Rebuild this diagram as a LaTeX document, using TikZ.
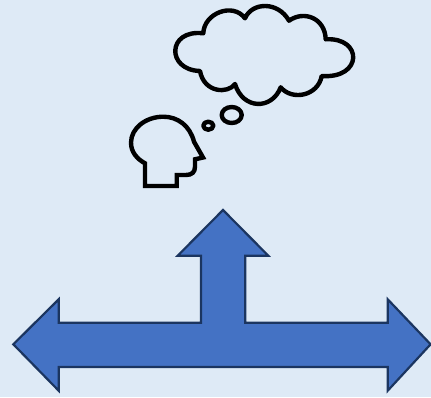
\documentclass[tikz,border=0pt]{standalone}
\definecolor{bgblue}{HTML}{DEEAF6}
\definecolor{arrowfill}{HTML}{4472C4}
\definecolor{arrowline}{HTML}{1B3560}
\tikzset{
  icon/.style={draw=black,line width=4.4pt,line join=round,fill=none},
  arrowshape/.style={draw=arrowline,line width=2.2pt,fill=arrowfill,line join=miter}
}
\begin{document}
\begin{tikzpicture}[x=1pt,y=-1pt]
\useasboundingbox (0,0) rectangle (431,397);
\fill[bgblue] (0,0) rectangle (431,397);
% three-way arrow
\draw[arrowshape] (223,210) -- (268.3,255.7) -- (245.3,255.7) -- (245.3,322.7) -- (387.7,322.7) -- (387.7,299.3) -- (430.6,344.3) -- (387.7,390.7) -- (387.7,367) -- (58.7,367) -- (58.7,390.7) -- (13.3,344.3) -- (58.7,299.3) -- (58.7,322.7) -- (201,322.7) -- (201,255.7) -- (177.7,255.7) -- cycle;
% cloud
\draw[icon] (203.3,33.3)
  .. controls (204,13) and (233,2) .. (245,18.3)
  .. controls (252,2) and (278,1) .. (289,20.7)
  .. controls (304,10) and (325,18) .. (325.7,39.3)
  .. controls (363,37) and (363,79) .. (321.7,76)
  .. controls (318,96) and (292,101) .. (280.7,87.3)
  .. controls (272,110) and (243,110) .. (235,84)
  .. controls (228,94) and (204,93) .. (200,71)
  .. controls (166,70) and (167,29) .. cycle;
% thought bubbles
\draw[icon] (231.7,115) ellipse [x radius=10,y radius=8];
\draw[icon] (208.3,125.7) ellipse [x radius=5,y radius=4];
% head
\draw[icon,line join=miter] (145,163.3) -- (145,186) -- (176.7,186) -- (176.7,175) -- (186,175)
  .. controls (192,175) and (195,172) .. (195,166.7)
  -- (195,159.3) -- (203,157.5) -- (194,141.7)
  .. controls (190,126) and (178,116.7) .. (163.3,116.7)
  .. controls (146,116.7) and (131,128) .. (131,142.7)
  .. controls (131,152) and (137,159) .. cycle;
\end{tikzpicture}
\end{document}
